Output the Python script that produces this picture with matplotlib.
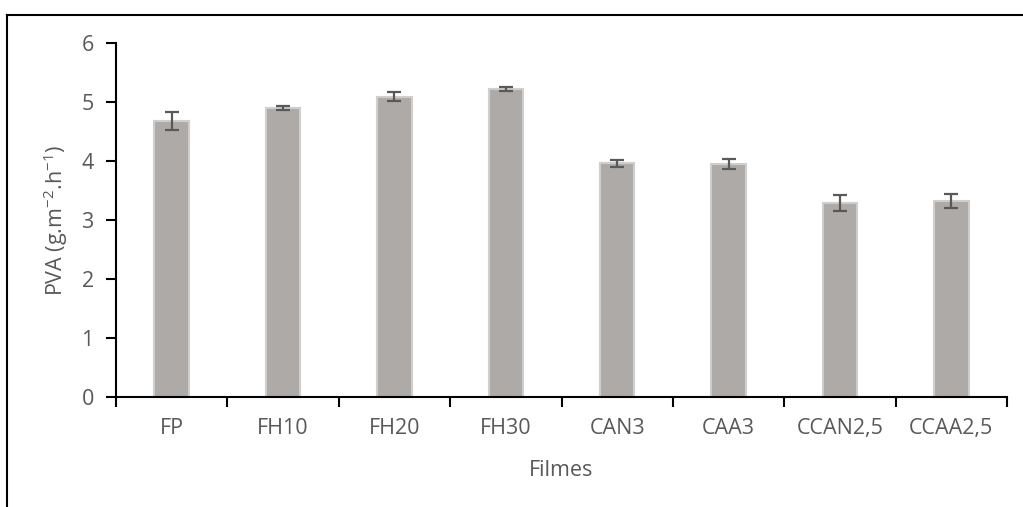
import matplotlib
matplotlib.use("Agg")
import matplotlib.pyplot as plt
from matplotlib.lines import Line2D
import numpy as np

categories = ["FP", "FH10", "FH20", "FH30", "CAN3", "CAA3", "CCAN2,5", "CCAA2,5"]
pva_means = [4.68, 4.90, 5.09, 5.22, 3.96, 3.95, 3.29, 3.32]
pva_errors = [0.15, 0.03, 0.08, 0.04, 0.06, 0.09, 0.135, 0.115]
y_ticks = [0, 1, 2, 3, 4, 5, 6]

plt.rcParams["font.family"] = ["Open Sans", "DejaVu Sans"]
text_color = "#595959"
fs = 15.5

fig = plt.figure(figsize=(10.23, 5.07), dpi=100)
ax = fig.add_axes([0.1134, 0.217, 0.871, 0.698])

x = np.arange(len(categories))
ax.bar(x, pva_means, width=0.31, color="#AEAAA8", edgecolor="#D0CECD",
       linewidth=1.5, zorder=2)
ax.errorbar(x, pva_means, yerr=pva_errors, fmt="none", ecolor="#595959",
            elinewidth=1.6, capsize=5, capthick=1.6, zorder=3)

ax.set_xlim(-0.5, len(categories) - 0.5)
ax.set_ylim(0, 6)
ax.set_yticks(y_ticks)
ax.set_xticks(np.arange(len(categories) + 1) - 0.5)
ax.set_xticklabels([])
ax.set_xticks(x, minor=True)
ax.set_xticklabels(categories, minor=True)
ax.tick_params(axis="x", which="major", direction="out", length=7, width=1.5, color="black")
ax.tick_params(axis="x", which="minor", length=0, pad=15, labelsize=fs, labelcolor=text_color)
ax.tick_params(axis="y", direction="out", length=7, width=1.5, color="black",
               labelsize=fs, labelcolor=text_color, pad=9)

for side in ("top", "right"):
    ax.spines[side].set_visible(False)
for side in ("left", "bottom"):
    ax.spines[side].set_linewidth(1.5)
    ax.spines[side].set_color("black")

ax.set_xlabel("Filmes", fontsize=fs, color=text_color, labelpad=15)
ax.set_ylabel(r"PVA (g.m$^{\mathregular{-2}}$.h$^{\mathregular{-1}}$)", fontsize=fs,
              color=text_color, labelpad=8)

# frame lines along the top and left of the figure
fig.add_artist(Line2D([7 / 1023, 1.0], [1 - 15 / 507, 1 - 15 / 507],
                      transform=fig.transFigure, color="black", linewidth=1.5))
fig.add_artist(Line2D([7 / 1023, 7 / 1023], [0.0, 1 - 15 / 507],
                      transform=fig.transFigure, color="black", linewidth=1.5))

fig.savefig("out.png", dpi=100)
